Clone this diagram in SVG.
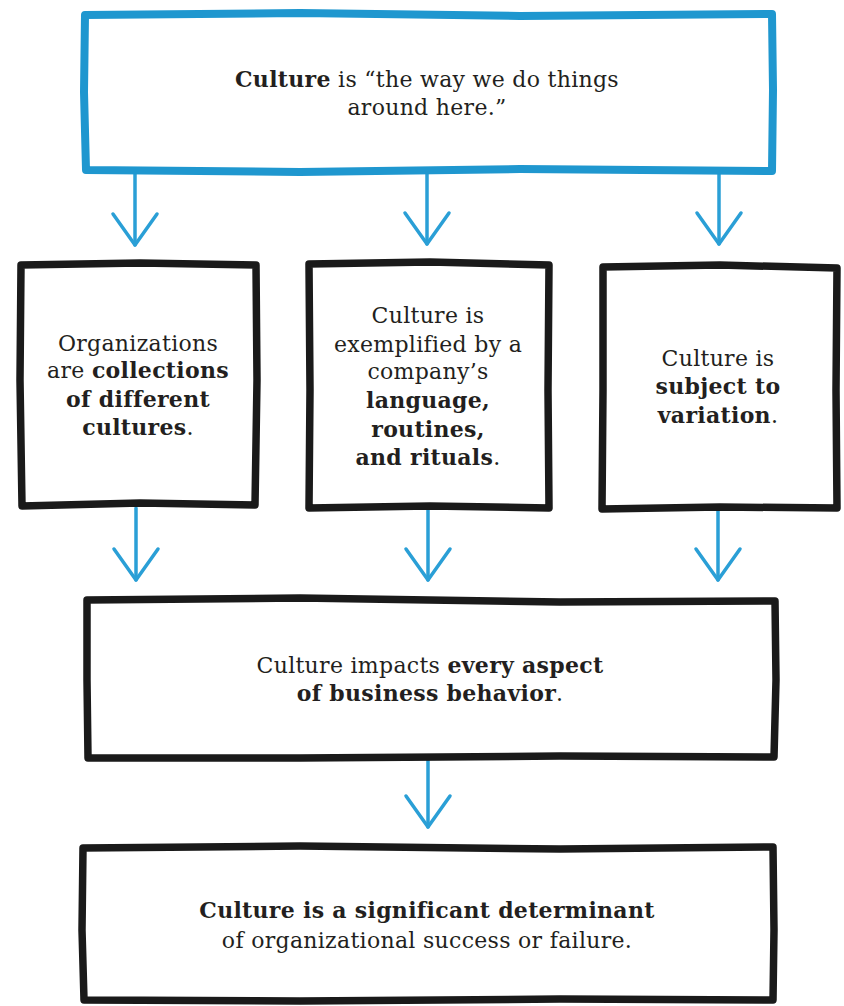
<svg xmlns="http://www.w3.org/2000/svg" width="844" height="1006" viewBox="0 0 844 1006">
  <style>
    .bg { fill: #ffffff; }
    .boxblue { fill: #ffffff; stroke: #1f97cf; stroke-width: 8; stroke-linejoin: round; stroke-linecap: round; }
    .boxblack { fill: #ffffff; stroke: #1a1a1a; stroke-width: 7.5; stroke-linejoin: round; stroke-linecap: round; }
    .conn { fill: none; stroke: #2a9fd6; stroke-width: 3.5; stroke-linecap: round; }
    .t { font-family: "DejaVu Serif", "Liberation Serif", serif; font-size: 22px; fill: #231f20; text-anchor: middle; font-weight: 300; letter-spacing: 0.3px; }
    .b { font-weight: 700; }
  </style>
  <defs>
    <marker id="vhead" markerUnits="userSpaceOnUse" viewBox="-34 -26 40 52" refX="0" refY="0" markerWidth="40" markerHeight="52" orient="auto">
      <path d="M-31,-22 L0,0 L-31,22" fill="none" stroke="#2a9fd6" stroke-width="3.5" stroke-linecap="round" stroke-linejoin="round"/>
    </marker>
  </defs>
  <rect class="bg" x="0" y="0" width="844" height="1006"/>

  <g id="connectors">
    <path class="conn" d="M135,172 L135,245" marker-end="url(#vhead)"/>
    <path class="conn" d="M427,172 L427,244" marker-end="url(#vhead)"/>
    <path class="conn" d="M719,172 L719,244" marker-end="url(#vhead)"/>
    <path class="conn" d="M136,508 L136,580" marker-end="url(#vhead)"/>
    <path class="conn" d="M428,508 L428,580" marker-end="url(#vhead)"/>
    <path class="conn" d="M718,508 L718,580" marker-end="url(#vhead)"/>
    <path class="conn" d="M428,757 L428,827" marker-end="url(#vhead)"/>
  </g>

  <g id="node-culture">
    <path class="boxblue" d="M85,15 L300,13 L520,16 L772,14 L773,90 L772,171 L520,169 L300,172 L86,170 L84,92 Z"/>
    <text class="t" x="427" y="87"><tspan class="b">Culture</tspan> is “the way we do things</text>
    <text class="t" x="427" y="115">around here.”</text>
  </g>

  <g id="node-collections">
    <path class="boxblack" d="M21,265 L140,263 L256,265 L257,380 L255,505 L140,503 L22,506 L20,380 Z"/>
    <text class="t" x="138" y="351">Organizations</text>
    <text class="t" x="138" y="378">are <tspan class="b">collections</tspan></text>
    <text class="t b" x="138" y="407">of different</text>
    <text class="t" x="138" y="435"><tspan class="b">cultures</tspan>.</text>
  </g>

  <g id="node-language">
    <path class="boxblack" d="M309,264 L430,262 L549,265 L548,390 L549,508 L430,506 L309,508 L310,390 Z"/>
    <text class="t" x="428" y="323">Culture is</text>
    <text class="t" x="428" y="352">exemplified by a</text>
    <text class="t" x="428" y="379">company’s</text>
    <text class="t b" x="428" y="408">language,</text>
    <text class="t b" x="428" y="437">routines,</text>
    <text class="t" x="428" y="465"><tspan class="b">and rituals</tspan>.</text>
  </g>

  <g id="node-variation">
    <path class="boxblack" d="M603,267 L720,265 L837,268 L836,390 L837,508 L720,507 L602,509 L603,390 Z"/>
    <text class="t" x="718" y="366">Culture is</text>
    <text class="t b" x="718" y="394">subject to</text>
    <text class="t" x="718" y="423"><tspan class="b">variation</tspan>.</text>
  </g>

  <g id="node-impacts">
    <path class="boxblack" d="M87,600 L300,598 L560,602 L775,601 L776,680 L774,757 L560,756 L300,758 L88,758 L87,680 Z"/>
    <text class="t" x="430" y="673">Culture impacts <tspan class="b">every aspect</tspan></text>
    <text class="t" x="430" y="701"><tspan class="b">of business behavior</tspan>.</text>
  </g>

  <g id="node-determinant">
    <path class="boxblack" d="M83,848 L300,846 L560,849 L773,847 L774,930 L773,1000 L560,999 L300,1001 L84,1000 L82,930 Z"/>
    <text class="t b" x="427" y="918">Culture is a significant determinant</text>
    <text class="t" x="427" y="948">of organizational success or failure.</text>
  </g>
</svg>
